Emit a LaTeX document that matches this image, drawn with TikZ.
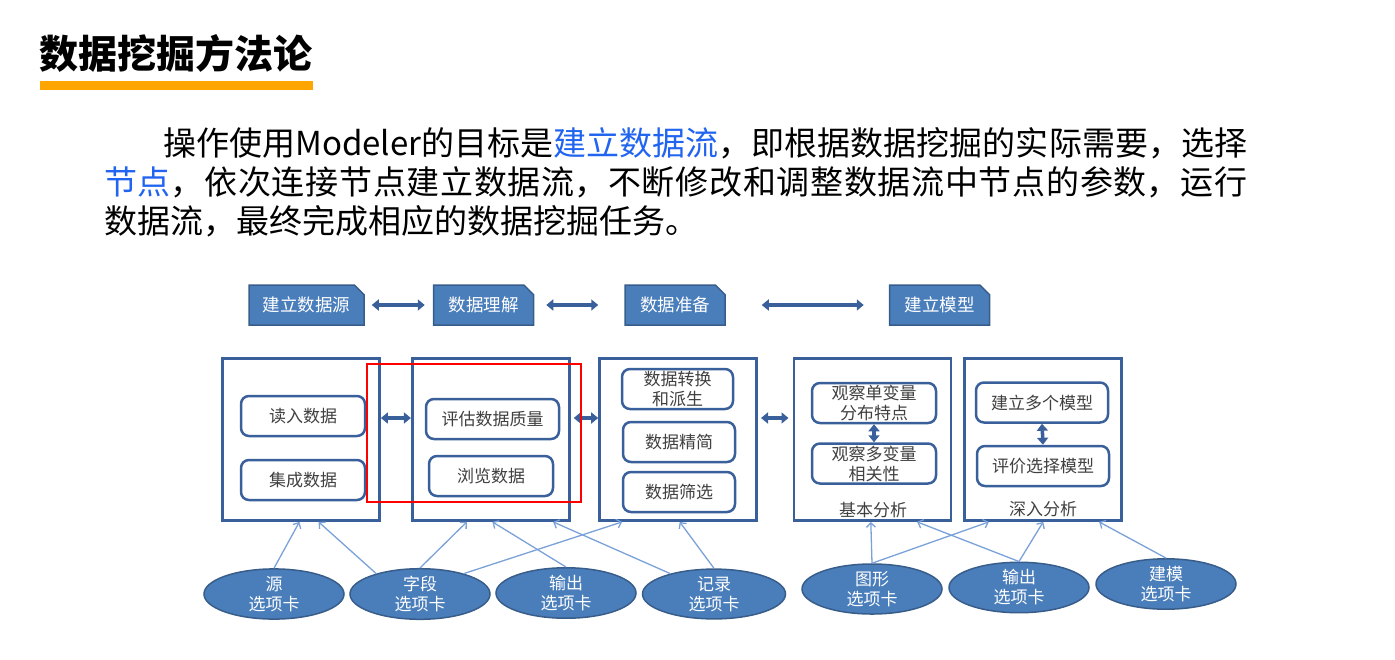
\documentclass[tikz,border=0pt]{standalone}
\usepackage{fontspec}
\setmainfont{Noto Sans CJK SC}
\usetikzlibrary{shapes.geometric,shapes.misc,arrows.meta,positioning,calc}
\XeTeXlinebreaklocale "zh"
\XeTeXlinebreakskip=0pt plus 8pt
\definecolor{hdrblue}{RGB}{74,126,187}
\definecolor{hdrline}{RGB}{56,93,138}
\definecolor{frameblue}{RGB}{58,96,155}
\definecolor{linkblue}{RGB}{122,162,216}
\definecolor{textblue}{RGB}{32,100,240}
\definecolor{titlebar}{RGB}{255,165,0}
\definecolor{inktext}{RGB}{64,64,64}

\begin{document}
\begin{tikzpicture}[
    x=1pt, y=-1pt,
    phase/.style={chamfered rectangle, chamfered rectangle corners=north east, chamfered rectangle xsep=6pt, draw=hdrline, line width=1.5pt, fill=hdrblue, text=white, minimum width=100pt, minimum height=40pt, inner sep=0pt, font=\fontsize{17.5}{20}\selectfont},
    stage/.style={rectangle, draw=frameblue, line width=2.8pt, minimum width=157pt, minimum height=162pt},
    task/.style={rectangle, rounded corners=8pt, draw=frameblue, line width=2.5pt, fill=white, text=inktext, minimum width=124pt, minimum height=40pt, inner sep=0pt, align=center, font=\fontsize{17}{20}\selectfont},
    tab/.style={ellipse, draw=hdrline, line width=1.5pt, fill=hdrblue, text=white, minimum width=140pt, minimum height=46pt, inner sep=0pt, align=center, font=\fontsize{17}{20}\selectfont},
    dbl/.style={draw=frameblue, line width=4pt, {Triangle[width=11pt,length=7pt]}-{Triangle[width=11pt,length=7pt]}},
    feed/.style={draw=linkblue, line width=1.3pt, -{Straight Barb[width=9pt,length=4.5pt]}},
    note/.style={text=inktext, font=\fontsize{17}{20}\selectfont}
]
    \useasboundingbox (0,0) rectangle (1395,659);

    \node[anchor=west, inner sep=0pt, font=\fontsize{39}{44}\selectfont\bfseries] (title) at (39,53) {数据挖掘方法论};
    \fill[titlebar] (40,81) rectangle (313,90);

    \node[anchor=north west, inner sep=0pt, text width=1143pt, align=justify, font=\fontsize{33}{39}\selectfont] (intro) at (104,127) {\noindent\hspace*{59pt}操作使用Modeler的目标是\textcolor{textblue}{建立数据流}，即根据数据挖掘的实际需要，选择\linebreak{}\textcolor{textblue}{节点}，依次连接节点建立数据流，不断修改和调整数据流中节点的参数，运行\linebreak{}数据流，最终完成相应的数据挖掘任务。};

    \node[phase, minimum width=115pt] (source) at (306.5,305) {建立数据源};
    \node[phase, right=68pt of source] (understand) {数据理解};
    \node[phase, right=90pt of understand] (prepare) {数据准备};
    \node[phase, right=163pt of prepare] (model) {建立模型};

    \draw[dbl, shorten <=7pt, shorten >=8pt] (source.east) -- (understand.west);
    \draw[dbl, shorten <=12pt, shorten >=26pt] (understand.east) -- (prepare.west);
    \draw[dbl, shorten <=36pt, shorten >=25pt] (prepare.east) -- (model.west);

    \node[stage] (load) at (301,439.5) {};
    \node[stage, right=30pt of load] (explore) {};
    \node[stage, right=27.5pt of explore] (prep) {};
    \node[stage, right=34.5pt of prep] (basic) {};
    \node[stage, right=11pt of basic] (deep) {};

    \node[task] (read) at (303,416) {读入数据};
    \node[task] (merge) at (303,480) {集成数据};
    \node[task, minimum width=133pt] (assess) at (492.5,419) {评估数据质量};
    \node[task] (browse) at (491,476) {浏览数据};
    \node[task, minimum width=111pt] (derive) at (677.5,389) {数据转换\\和派生};
    \node[task, minimum width=112pt] (reduce) at (679,442) {数据精简};
    \node[task, minimum width=112pt] (filter) at (679,492) {数据筛选};
    \node[task] (uni) at (874,403) {观察单变量\\分布特点};
    \node[task] (multi) at (874,463.5) {观察多变量\\相关性};
    \node[task, minimum width=132pt] (build) at (1042,402.5) {建立多个模型};
    \node[task, minimum width=132pt] (choose) at (1043,466) {评价选择模型};
    \node[note] (basiclbl) at (873,510) {基本分析};
    \node[note] (deeplbl) at (1043,509) {深入分析};

    \draw[dbl] ([yshift=21.5pt]load.east) -- ([yshift=21.5pt]explore.west);
    \draw[dbl, shorten <=3pt] ([yshift=21.5pt]explore.east) -- ([yshift=21.5pt]prep.west);
    \draw[dbl, shorten <=3pt, shorten >=4pt] ([yshift=21.5pt]prep.east) -- ([yshift=21.5pt]basic.west);
    \draw[dbl, line width=3.5pt] (uni.south) -- (multi.north);
    \draw[dbl, line width=3.5pt] (build.south) -- (choose.north);

    \draw[red, line width=2.5pt] (367,364) rectangle (581,502);

    \node[tab] (srctab) at (274,594) {源\\选项卡};
    \node[tab] (fieldtab) at (420,594) {字段\\选项卡};
    \node[tab] (outtab) at (566,593) {输出\\选项卡};
    \node[tab, minimum width=143pt] (rectab) at (714,594) {记录\\选项卡};
    \node[tab] (graphtab) at (872,589) {图形\\选项卡};
    \node[tab] (outtabb) at (1019,587.5) {输出\\选项卡};
    \node[tab] (modeltab) at (1166,584) {建模\\选项卡};

    \draw[feed] (srctab.north) -- ($(load.south west)!0.49!(load.south east)$);
    \draw[feed] (fieldtab.155) -- ($(load.south west)!0.61!(load.south east)$);
    \draw[feed] (fieldtab.north) -- ($(explore.south west)!0.35!(explore.south east)$);
    \draw[feed] (fieldtab.25) -- ($(prep.south west)!0.15!(prep.south east)$);
    \draw[feed] (outtab.north) -- ($(explore.south west)!0.51!(explore.south east)$);
    \draw[feed] (rectab.155) -- ($(explore.south west)!0.89!(explore.south east)$);
    \draw[feed] (rectab.north) -- ($(prep.south west)!0.51!(prep.south east)$);
    \draw[feed] (graphtab.north) -- ($(basic.south west)!0.49!(basic.south east)$);
    \draw[feed] (graphtab.north) -- ($(deep.south west)!0.16!(deep.south east)$);
    \draw[feed] (outtabb.north) -- ($(basic.south west)!0.78!(basic.south east)$);
    \draw[feed] (outtabb.north) -- ($(deep.south west)!0.5!(deep.south east)$);
    \draw[feed] (modeltab.north) -- ($(deep.south west)!0.85!(deep.south east)$);
\end{tikzpicture}
\end{document}
